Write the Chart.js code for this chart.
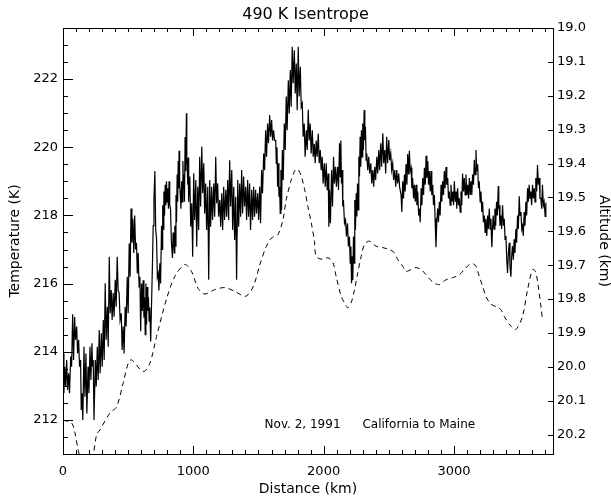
<!DOCTYPE html>
<html>
<head>
<meta charset="utf-8">
<title>490 K Isentrope</title>
<script src="https://cdn.jsdelivr.net/npm/chart.js@4/dist/chart.umd.min.js"></script>
<style>
  html, body { margin: 0; padding: 0; background: #fff; }
  #wrap { width: 611px; height: 500px; }
</style>
</head>
<body>
<div id="wrap"><canvas id="isentropeChart" width="611" height="500"></canvas></div>
<script>
// Temperature along the flight track (solid line, left axis)
const tempDist = [
  0, 7, 13, 20, 28, 35, 43, 50, 59, 66,
  74, 81, 89, 96, 105, 112, 120, 127, 135, 140,
  146, 152, 161, 168, 176, 183, 192, 199, 207, 214,
  222, 227, 232, 238, 248, 255, 263, 270, 278, 285,
  294, 301, 309, 316, 324, 331, 340, 347, 355, 362,
  370, 377, 385, 392, 401, 408, 416, 423, 431, 438,
  447, 454, 462, 469, 477, 484, 493, 500,
  508, 515, 522, 529, 536, 543, 550, 557, 564, 570,
  577, 584, 590, 596, 603, 609, 615, 621, 626, 631,
  636, 641, 646, 651, 656, 661, 666, 673, 680, 686,
  692, 698, 705, 711, 718, 724, 730, 736, 743, 749,
  756, 760, 765, 769, 774, 779, 784, 789, 794, 799,
  804, 809, 814, 819, 825, 832, 840, 845, 850, 854,
  858, 862, 867, 871, 876, 880, 884, 887, 891, 895,
  900, 905, 910, 915, 920, 924, 928, 932, 937, 942,
  947, 950, 953, 957, 960, 963, 966,
  973, 980, 988, 995, 1003, 1010, 1019, 1026,
  1034, 1041, 1049, 1056, 1065, 1072, 1080, 1087, 1095, 1102,
  1111, 1118, 1126, 1133, 1141, 1148, 1157, 1164, 1172, 1179,
  1187, 1194, 1203, 1210, 1218, 1225, 1233, 1240, 1249, 1256,
  1264, 1271, 1279, 1286, 1295, 1302, 1310, 1317, 1325, 1332,
  1341, 1348, 1356, 1363, 1371, 1378, 1386, 1393, 1402, 1409,
  1417, 1424, 1432, 1439, 1448, 1455, 1463, 1470, 1478, 1485,
  1494, 1501, 1509, 1516, 1524, 1531, 1540, 1547, 1555, 1562,
  1570, 1577, 1586, 1593, 1601, 1608, 1616, 1623, 1632, 1637,
  1642, 1647, 1652, 1657, 1662, 1667, 1672, 1677, 1683, 1690,
  1698, 1705, 1713, 1720, 1729, 1736, 1744, 1751, 1759, 1766,
  1775, 1782, 1790, 1797, 1805, 1812, 1821, 1828, 1836, 1843,
  1851, 1858, 1867, 1874, 1882, 1889, 1897, 1904, 1913, 1920,
  1928, 1935, 1943, 1950, 1959, 1966, 1974, 1981, 1989, 1996,
  2005, 2012, 2020, 2027, 2035, 2040, 2045, 2052, 2061, 2068,
  2076, 2083, 2091, 2098, 2107, 2114, 2122, 2127, 2132, 2137,
  2142, 2147, 2152, 2160, 2168, 2175, 2183, 2190, 2198, 2204,
  2209, 2214, 2219, 2224, 2229, 2234, 2239, 2244, 2250, 2255,
  2260, 2265, 2270, 2275, 2280, 2285, 2290, 2295, 2300, 2305,
  2311, 2316, 2321, 2326, 2331, 2338, 2346, 2353, 2362, 2369,
  2377, 2384, 2392, 2399, 2408, 2415, 2423, 2430, 2438, 2445,
  2454, 2461, 2469, 2476, 2484, 2491, 2500, 2507, 2515, 2522,
  2530, 2537, 2546, 2553, 2561, 2568, 2576, 2583,
  2594, 2600, 2607, 2613, 2620, 2626, 2632, 2639, 2645, 2652,
  2658, 2664, 2671, 2677, 2683, 2690, 2696, 2703, 2709, 2716,
  2722, 2729, 2735, 2741, 2748, 2754, 2760, 2767, 2773, 2780,
  2786, 2792, 2799, 2805, 2811, 2818, 2824, 2830, 2837, 2843,
  2850, 2855, 2862, 2868, 2875, 2881, 2888, 2894, 2901, 2907,
  2913, 2920, 2926, 2932, 2939, 2945, 2952, 2958, 2964, 2971,
  2977, 2984, 2990, 2997, 3003, 3010, 3016, 3022, 3028, 3035,
  3041, 3048, 3054, 3060, 3066, 3073, 3079, 3086, 3092, 3099,
  3105, 3112, 3118, 3125, 3131, 3137, 3143, 3150, 3156, 3162,
  3169, 3175, 3182, 3188, 3194, 3201, 3207, 3214, 3220, 3226,
  3233, 3239, 3245, 3252, 3258, 3264, 3271, 3278, 3284, 3288,
  3291, 3296, 3301, 3308, 3314, 3320, 3327, 3333, 3340, 3344,
  3347, 3353, 3360, 3366, 3373, 3380, 3386, 3392, 3399, 3405,
  3411, 3418, 3424, 3430, 3437, 3443, 3449, 3456, 3462, 3468,
  3475, 3481, 3488, 3494, 3501, 3507, 3514, 3520, 3526, 3532,
  3539, 3545, 3552, 3558, 3565, 3571, 3577, 3584, 3590, 3596,
  3603, 3609, 3616, 3622, 3628, 3635, 3641, 3648, 3654, 3660,
  3667, 3673, 3679, 3686, 3692, 3700, 3705];
const tempK = [
  213.95, 212.78, 213.56, 212.98, 213.76, 212.88, 213.37, 212.78, 213.86, 213.56,
  215.1, 213.76, 215.03, 214.35, 214.74, 213.95, 214.35, 213.56, 213.76, 212.29,
  212.78, 212.0, 214.15, 212.68, 213.95, 212.19, 213.56, 212.78, 214.15, 213.17,
  214.25, 213.56, 213.76, 212.0, 213.76, 212.98, 214.15, 213.17, 214.64, 213.37,
  214.54, 213.56, 214.93, 213.76, 216.01, 214.35, 215.32, 214.15, 216.79, 215.13,
  215.81, 214.93, 215.72, 215.03, 216.11, 215.32, 216.79, 215.81, 215.72, 214.93,
  215.13, 214.05, 214.74, 213.95, 215.32, 214.74, 216.2, 215.13,
  217.18, 216.2, 218.2, 217.2, 217.9, 216.9, 218.0, 217.0, 217.2, 216.3,
  216.9, 215.9, 216.2, 214.6, 216.0, 215.2, 216.1, 215.0, 215.6, 214.5,
  216.0, 214.8, 215.9, 215.2, 215.6, 214.9, 215.3, 214.3, 215.5, 216.5,
  217.7, 218.5, 219.3, 217.6, 217.3, 216.2, 216.3, 215.8, 216.6, 216.0,
  217.7, 217.0, 218.3, 217.6, 218.7, 218.0, 218.9, 218.3, 219.0, 218.4,
  218.8, 218.2, 219.0, 218.3, 218.2, 217.2, 216.75, 217.5, 217.2, 216.9,
  217.7, 217.1, 218.6, 217.8, 219.2, 218.4, 219.6, 218.8, 219.9, 218.9,
  218.6, 218.2, 219.0, 218.4, 219.6, 218.8, 219.2, 218.4, 220.3, 219.3,
  221.0, 219.6, 219.5, 218.9, 219.7, 218.4, 218.5,
  219.14, 217.67, 218.36, 216.79, 219.24, 217.87, 219.04, 217.08,
  218.84, 217.57, 219.72, 218.26, 220.02, 218.65, 219.53, 218.06, 218.94, 217.57,
  218.84, 216.11, 219.04, 217.67, 218.84, 217.87, 218.94, 217.96, 219.72, 218.36,
  218.94, 217.96, 218.45, 217.67, 218.65, 217.57, 218.84, 217.87, 218.75, 217.96,
  219.04, 217.87, 219.62, 218.26, 219.33, 217.57, 218.84, 217.28, 218.55, 216.11,
  219.04, 217.67, 218.94, 217.96, 219.33, 218.06, 219.14, 218.26, 218.84, 217.87,
  219.04, 217.96, 218.94, 217.57, 218.75, 217.87, 218.84, 217.96, 218.75, 218.06,
  218.65, 217.87, 218.84, 217.77, 219.33, 218.65, 219.82, 219.33, 220.5, 219.72,
  220.7, 220.12, 220.95, 220.31, 220.8, 220.2, 220.5, 220.2, 220.2, 219.53,
  220.0, 218.84, 219.53, 218.55, 218.84, 218.06, 219.33, 218.16, 219.92, 219.04,
  220.7, 219.92, 221.49, 220.5, 221.97, 220.99, 222.27, 221.19, 222.95, 221.88,
  222.85, 221.58, 222.46, 221.09, 222.95, 221.49, 222.36, 221.19, 221.29, 220.31,
  220.7, 219.72, 220.5, 219.92, 221.1, 220.2, 220.7, 219.82, 220.5, 219.72,
  220.1, 219.53, 220.2, 219.72, 220.4, 219.53, 219.92, 219.33, 219.72, 218.94,
  219.53, 218.84, 219.53, 218.74, 219.23, 217.67, 218.75, 217.77, 219.33, 218.26,
  219.72, 218.94, 219.43, 218.84, 219.43, 218.75, 220.12, 219.14, 220.2, 218.94,
  219.33, 218.26, 218.45, 217.77, 217.87, 217.38, 217.77, 217.09, 217.38, 216.6,
  217.09, 216.01, 216.8, 216.1, 217.38, 216.6, 218.45, 217.58, 218.65, 217.97,
  218.94, 218.16, 219.72, 219.14, 220.31, 219.43, 220.5, 219.72, 220.7, 219.92,
  221.09, 220.21, 220.6, 219.62, 219.82, 219.33, 219.72, 219.23, 219.53, 218.94,
  219.33, 218.84, 219.43, 219.04, 219.72, 219.23, 219.92, 219.33, 220.12, 219.43,
  220.41, 219.53, 219.92, 219.23, 220.31, 219.53, 220.21, 219.62, 219.82, 219.33,
  219.53, 219.04, 219.33, 218.84, 219.33, 218.94, 219.23, 218.84,
  218.6, 218.1, 219.0, 218.5, 219.2, 218.7, 219.5, 218.9, 219.8, 219.2,
  219.9, 219.3, 219.4, 218.8, 219.1, 218.5, 218.9, 218.4, 218.9, 218.3,
  218.7, 218.0, 218.2, 217.8, 218.8, 218.3, 219.1, 218.6, 219.4, 218.9,
  219.75, 219.1, 219.6, 218.9, 219.3, 218.7, 219.3, 218.6, 218.9, 218.3,
  218.6, 217.9, 217.07, 217.8, 218.2, 217.8, 218.4, 218.0, 218.9, 218.4,
  219.0, 218.6, 219.3, 218.8, 219.42, 218.9, 219.1, 218.5, 218.7, 218.3,
  218.9, 218.4, 218.7, 218.3, 219.0, 218.4, 218.7, 218.2, 218.8, 218.3,
  218.5, 218.1, 218.7, 218.3, 219.23, 218.7, 219.1, 218.6, 219.2, 218.6,
  218.9, 218.5, 219.1, 218.6, 219.0, 218.6, 219.2, 218.9, 219.63, 219.2,
  219.92, 219.3, 219.5, 218.8, 219.0, 218.4, 218.7, 218.1, 218.4, 217.8,
  218.0, 217.5, 217.9, 217.4, 218.0, 217.6, 218.2, 217.6, 217.9, 217.3,
  217.07, 217.6, 218.0, 217.6, 218.2, 217.7, 218.4, 218.0, 218.86, 218.2,
  218.3, 217.7, 218.0, 217.6, 218.3, 217.7, 217.9, 217.3, 217.4, 216.7,
  216.31, 216.9, 217.2, 216.5, 216.2, 216.8, 217.1, 216.7, 217.3, 216.9,
  217.6, 217.2, 218.0, 217.6, 218.56, 218.0, 218.1, 217.6, 217.7, 217.4,
  218.1, 217.7, 218.4, 218.0, 218.8, 218.4, 218.9, 218.5, 218.7, 218.3,
  218.9, 218.5, 218.8, 218.4, 219.1, 218.7, 219.48, 218.9, 219.1, 218.5,
  218.5, 218.2, 218.9, 218.3, 218.4, 217.97, 218.37];

// Altitude of the isentrope (dashed line, right axis, reversed)
const altDist = [2, 67, 92, 117, 174, 232, 258, 283, 360, 411, 462, 500, 526, 615, 666, 718, 794, 858, 935, 986,
  1036, 1088, 1164, 1241, 1318, 1394, 1432, 1471, 1509, 1560, 1599, 1649, 1688, 1713, 1746, 1777, 1802, 1828, 1854, 1879,
  1905, 1930, 1943, 1994, 2032, 2071, 2096, 2135, 2160, 2186, 2211, 2237, 2262, 2288, 2313, 2352, 2403, 2454, 2505, 2543,
  2569, 2607, 2632, 2671, 2709, 2748, 2786, 2824, 2862, 2888, 2939, 2990, 3041, 3079, 3118, 3143, 3169, 3194, 3220, 3245,
  3284, 3322, 3360, 3386, 3437, 3475, 3526, 3565, 3603, 3628, 3667, 3679];
const altKm = [20.157, 20.166, 20.195, 20.246, 20.32, 20.257, 20.20, 20.186, 20.136, 20.118, 20.047, 19.99, 19.979, 20.014, 19.99, 19.91, 19.80, 19.733, 19.698, 19.718,
  19.768, 19.785, 19.772, 19.766, 19.777, 19.792, 19.782, 19.752, 19.70, 19.645, 19.62, 19.61, 19.565, 19.506, 19.456, 19.422, 19.417, 19.437, 19.476, 19.526,
  19.575, 19.63, 19.674, 19.683, 19.678, 19.692, 19.733, 19.792, 19.811, 19.826, 19.811, 19.772, 19.722, 19.674, 19.639, 19.629, 19.644, 19.648, 19.654, 19.663,
  19.683, 19.703, 19.718, 19.713, 19.707, 19.713, 19.728, 19.745, 19.755, 19.757, 19.743, 19.737, 19.728, 19.713, 19.698, 19.695, 19.703, 19.733, 19.762, 19.792,
  19.815, 19.822, 19.831, 19.851, 19.88, 19.89, 19.851, 19.772, 19.713, 19.72, 19.82, 19.86];

// Axis tick labels
const distLabels = [0, 1000, 2000, 3000];
const tempLabels = [212, 214, 216, 218, 220, 222];
const altLabels = [19.0, 19.1, 19.2, 19.3, 19.4, 19.5, 19.6, 19.7, 19.8, 19.9, 20.0, 20.1, 20.2];

const noteDate = 'Nov. 2, 1991';
const noteRoute = 'California to Maine';

const FONT = '"DejaVu Sans", sans-serif';

function toPoints(xs, ys) {
    return xs.map((x, i) => ({ x: x, y: ys[i] }));
}

// Draw the frame and the IDL-style inward tick marks
const inwardTicks = {
    id: 'inwardTicks',
    afterDatasetsDraw(chart) {
        const { ctx, chartArea: a, scales } = chart;
        ctx.save();
        ctx.strokeStyle = '#000';
        ctx.lineWidth = 1;
        ctx.beginPath();
        scales.x.ticks.forEach(t => {
            const px = Math.round(scales.x.getPixelForValue(t.value)) + 0.5;
            const len = distLabels.includes(t.value) ? 8 : 4;
            ctx.moveTo(px, a.bottom);
            ctx.lineTo(px, a.bottom - len);
            ctx.moveTo(px, a.top);
            ctx.lineTo(px, a.top + len);
        });
        scales.y.ticks.forEach(t => {
            const py = Math.round(scales.y.getPixelForValue(t.value)) + 0.5;
            const len = tempLabels.includes(t.value) ? 10 : 5;
            ctx.moveTo(a.left, py);
            ctx.lineTo(a.left + len, py);
        });
        scales.y1.ticks.forEach(t => {
            const py = Math.round(scales.y1.getPixelForValue(t.value)) + 0.5;
            ctx.moveTo(a.right, py);
            ctx.lineTo(a.right - 5, py);
        });
        ctx.stroke();
        ctx.strokeRect(Math.round(a.left) + 0.5, Math.round(a.top) + 0.5,
            Math.round(a.width), Math.round(a.height));

        // flight note inside the plot
        ctx.fillStyle = '#000';
        ctx.font = '12px ' + FONT;
        ctx.textBaseline = 'middle';
        const ny = scales.y.getPixelForValue(211.85);
        ctx.fillText(noteDate, scales.x.getPixelForValue(1547), ny);
        ctx.fillText(noteRoute, scales.x.getPixelForValue(2298), ny);
        ctx.restore();
    }
};

const ctx = document.getElementById('isentropeChart');
new Chart(ctx, {
    type: 'line',
    data: {
        datasets: [{
            label: 'Temperature',
            data: toPoints(tempDist, tempK),
            yAxisID: 'y',
            borderColor: '#000',
            borderWidth: 1.2,
            pointRadius: 0,
            tension: 0,
            fill: false
        }, {
            label: 'Altitude',
            data: toPoints(altDist, altKm),
            yAxisID: 'y1',
            borderColor: '#000',
            borderWidth: 1,
            borderDash: [5, 4],
            pointRadius: 0,
            tension: 0.3,
            fill: false
        }]
    },
    options: {
        responsive: false,
        animation: false,
        devicePixelRatio: 1,
        layout: { padding: 0 },
        plugins: {
            legend: { display: false },
            tooltip: { enabled: false },
            title: {
                display: true,
                text: '490 K Isentrope',
                color: '#000',
                font: { family: FONT, size: 16, weight: 'normal', lineHeight: 1.2 },
                padding: { top: 5, bottom: 3.8 }
            }
        },
        scales: {
            x: {
                type: 'linear',
                position: 'bottom',
                min: 0,
                max: 3760,
                grid: { display: false, drawTicks: false },
                border: { display: false },
                ticks: {
                    stepSize: 100,
                    autoSkip: false,
                    includeBounds: false,
                    maxRotation: 0,
                    padding: 10,
                    color: '#000',
                    font: { family: FONT, size: 13 },
                    callback: v => distLabels.includes(v) ? String(v) : ''
                },
                title: {
                    display: true,
                    text: 'Distance (km)',
                    color: '#000',
                    font: { family: FONT, size: 14, lineHeight: 1.2 },
                    padding: { top: 0, bottom: 2 }
                },
                afterFit: s => { s.height = 46; }
            },
            y: {
                type: 'linear',
                position: 'left',
                min: 211,
                max: 223.5,
                grid: { display: false, drawTicks: false },
                border: { display: false },
                ticks: {
                    stepSize: 0.5,
                    autoSkip: false,
                    includeBounds: false,
                    padding: 5,
                    color: '#000',
                    font: { family: FONT, size: 13 },
                    callback: v => tempLabels.includes(v) ? String(v) : ''
                },
                title: {
                    display: true,
                    text: 'Temperature (K)',
                    color: '#000',
                    font: { family: FONT, size: 14, lineHeight: 1.2 },
                    padding: { top: 7, bottom: 0 }
                },
                afterFit: s => { s.width = 63; }
            },
            y1: {
                type: 'linear',
                position: 'right',
                reverse: true,
                min: 19.0,
                max: 20.257,
                grid: { display: false, drawTicks: false },
                border: { display: false },
                ticks: {
                    stepSize: 0.1,
                    autoSkip: false,
                    includeBounds: false,
                    padding: 4,
                    color: '#000',
                    font: { family: FONT, size: 13 },
                    callback: v => altLabels.some(a => Math.abs(a - v) < 1e-6) ? v.toFixed(1) : ''
                },
                title: {
                    display: true,
                    text: 'Altitude (km)',
                    color: '#000',
                    font: { family: FONT, size: 14, lineHeight: 1 },
                    padding: { top: 0, bottom: 0 }
                },
                afterFit: s => { s.width = 58; }
            }
        }
    },
    plugins: [inwardTicks]
});
</script>
</body>
</html>
